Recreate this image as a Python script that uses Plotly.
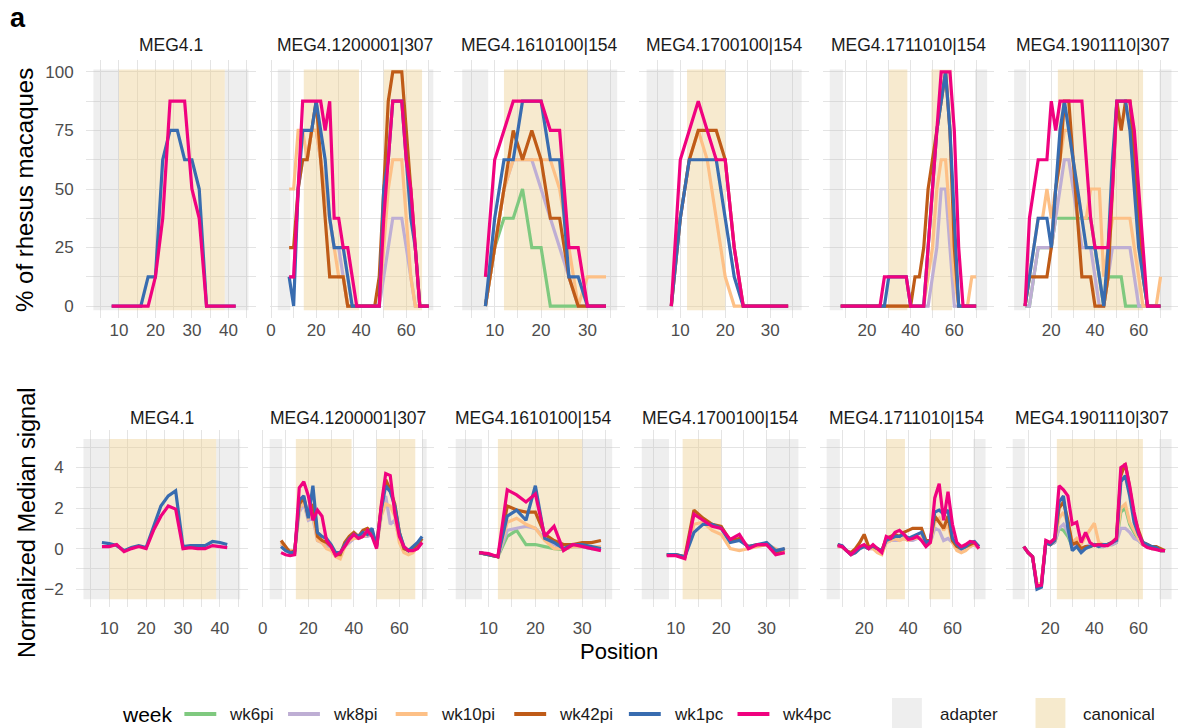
import plotly.graph_objects as go

W, H = 1184, 728
FONT = "Liberation Sans, Arial, Helvetica, sans-serif"

# ---------------- data ----------------
weeks = ["wk6pi", "wk8pi", "wk10pi", "wk42pi", "wk1pc", "wk4pc"]
week_colors = ["#7FC97F", "#BEAED4", "#FDC086", "#BF5B17", "#386CB0", "#F0027F"]

panels = ["MEG4.1", "MEG4.1200001|307", "MEG4.1610100|154",
          "MEG4.1700100|154", "MEG4.1711010|154", "MEG4.1901110|307"]

pos_8_42 = [8, 10, 12, 14, 16, 18, 20, 22, 24, 26, 28, 30, 32, 34, 36, 38, 40, 42]
pos_8_34 = [8, 10, 12, 14, 16, 18, 20, 22, 24, 26, 28, 30, 32, 34]
pos_8_70 = [8, 10, 12, 14, 16, 18, 20, 22, 24, 26, 28, 30, 32, 34, 36, 38, 40, 42,
            44, 46, 48, 50, 52, 54, 56, 58, 60, 62, 64, 66, 68, 70]
pos_8_72 = [8, 10, 12, 14, 16, 18, 20, 22, 24, 26, 28, 30, 32, 34, 36, 38, 40, 42,
            44, 46, 48, 50, 52, 54, 56, 58, 60, 62, 64, 66, 68, 70, 72]

# % of rhesus macaques (top row)
pct_meg4_1 = {
    "wk1pc": [0, 0, 0, 0, 0, 12.5, 12.5, 62.5, 75, 75, 62.5, 62.5, 50, 0, 0, 0, 0, 0],
    "wk4pc": [0, 0, 0, 0, 0, 0, 12.5, 37.5, 87.5, 87.5, 87.5, 50, 37.5, 0, 0, 0, 0, 0],
}
pct_1200001 = {
    "wk8pi": [12.5, 12.5, 50, 62.5, 62.5, 75, 75, 62.5, 50, 37.5, 25, 25, 12.5, 0, 0, 0,
              0, 0, 0, 0, 0, 12.5, 25, 37.5, 37.5, 37.5, 25, 12.5, 0, 0, 0, 0],
    "wk10pi": [50, 50, 75, 75, 62.5, 75, 75, 62.5, 50, 37.5, 25, 12.5, 12.5, 0, 0, 0,
               0, 0, 0, 0, 0, 25, 50, 62.5, 62.5, 62.5, 37.5, 12.5, 0, 0, 0, 0],
    "wk42pi": [25, 25, 50, 62.5, 62.5, 75, 87.5, 62.5, 37.5, 12.5, 12.5, 12.5, 12.5, 0, 0, 0,
               0, 0, 0, 0, 12.5, 50, 87.5, 100, 100, 100, 75, 50, 25, 0, 0, 0],
    "wk1pc": [12.5, 0, 50, 75, 75, 75, 87.5, 75, 62.5, 37.5, 25, 25, 25, 12.5, 0, 0,
              0, 0, 0, 0, 0, 50, 62.5, 87.5, 87.5, 87.5, 62.5, 37.5, 25, 0, 0, 0],
    "wk4pc": [12.5, 12.5, 50, 87.5, 87.5, 87.5, 87.5, 87.5, 75, 87.5, 37.5, 37.5, 25, 25, 12.5, 0,
              0, 0, 0, 0, 0, 37.5, 62.5, 87.5, 87.5, 87.5, 62.5, 50, 25, 0, 0, 0],
}
pct_1610100 = {
    "wk6pi": [0, 25, 37.5, 37.5, 50, 25, 25, 0, 0, 0, 0, 0, 0, 0],
    "wk8pi": [0, 25, 50, 62.5, 62.5, 62.5, 50, 37.5, 25, 12.5, 0, 0, 0, 0],
    "wk10pi": [0, 25, 50, 62.5, 62.5, 62.5, 62.5, 62.5, 50, 25, 0, 12.5, 12.5, 12.5],
    "wk42pi": [0, 25, 50, 75, 62.5, 75, 62.5, 37.5, 37.5, 12.5, 0, 0, 0, 0],
    "wk1pc": [0, 37.5, 62.5, 62.5, 87.5, 87.5, 87.5, 62.5, 62.5, 12.5, 12.5, 0, 0, 0],
    "wk4pc": [12.5, 62.5, 75, 87.5, 87.5, 87.5, 87.5, 75, 75, 25, 25, 0, 0, 0],
}
pct_1700100 = {
    "wk10pi": [0, 37.5, 62.5, 75, 62.5, 37.5, 12.5, 0, 0, 0, 0, 0, 0, 0],
    "wk42pi": [0, 37.5, 62.5, 75, 75, 75, 62.5, 25, 0, 0, 0, 0, 0, 0],
    "wk1pc": [0, 37.5, 62.5, 62.5, 62.5, 62.5, 37.5, 12.5, 0, 0, 0, 0, 0, 0],
    "wk4pc": [0, 62.5, 75, 87.5, 75, 62.5, 62.5, 25, 0, 0, 0, 0, 0, 0],
}
pct_1711010 = {
    "wk8pi": [0, 0, 0, 0, 0, 0, 0, 0, 0, 0, 0, 0, 0, 0, 0, 0,
              0, 0, 0, 0, 0, 12.5, 25, 50, 50, 25, 0, 0, 0, 0, 0, 0],
    "wk10pi": [0, 0, 0, 0, 0, 0, 0, 0, 0, 0, 0, 0, 0, 0, 0, 0,
               0, 0, 0, 0, 12.5, 25, 50, 62.5, 62.5, 37.5, 12.5, 0, 0, 0, 12.5, 12.5],
    "wk42pi": [0, 0, 0, 0, 0, 0, 0, 0, 0, 0, 0, 0, 0, 0, 0, 0,
               0, 12.5, 12.5, 25, 50, 62.5, 75, 87.5, 100, 75, 25, 0, 0, 0, 0, 0],
    "wk1pc": [0, 0, 0, 0, 0, 0, 0, 0, 0, 0, 0, 12.5, 12.5, 12.5, 12.5, 12.5,
              0, 0, 0, 0, 25, 50, 75, 87.5, 100, 75, 37.5, 0, 0, 0, 0, 0],
    "wk4pc": [0, 0, 0, 0, 0, 0, 0, 0, 0, 0, 12.5, 12.5, 12.5, 12.5, 12.5, 12.5,
              0, 0, 0, 0, 25, 50, 75, 100, 100, 100, 75, 25, 0, 0, 0, 0],
}
pct_1901110 = {
    "wk6pi": [0, 0, 12.5, 25, 25, 25, 25, 37.5, 37.5, 37.5, 37.5, 37.5, 37.5, 37.5, 37.5, 37.5,
              25, 12.5, 0, 12.5, 12.5, 12.5, 12.5, 0, 0, 0, 0, 0, 0, 0, 0, 0],
    "wk8pi": [0, 0, 12.5, 25, 25, 25, 25, 37.5, 50, 62.5, 62.5, 50, 37.5, 25, 25, 25,
              12.5, 0, 0, 12.5, 25, 25, 25, 25, 25, 12.5, 0, 0, 0, 0, 0, 0],
    "wk10pi": [0, 12.5, 25, 37.5, 37.5, 50, 37.5, 50, 62.5, 75, 75, 62.5, 50, 37.5, 37.5, 50,
               50, 50, 12.5, 25, 37.5, 37.5, 37.5, 37.5, 37.5, 25, 12.5, 0, 0, 0, 0, 12.5],
    "wk42pi": [0, 12.5, 12.5, 12.5, 12.5, 12.5, 25, 50, 62.5, 87.5, 87.5, 62.5, 37.5, 12.5, 12.5, 12.5,
               0, 0, 0, 12.5, 50, 87.5, 75, 87.5, 87.5, 62.5, 37.5, 12.5, 0, 0, 0, 0],
    "wk1pc": [0, 12.5, 25, 37.5, 37.5, 37.5, 25, 50, 75, 87.5, 75, 62.5, 50, 37.5, 25, 25,
              25, 12.5, 0, 25, 62.5, 87.5, 87.5, 87.5, 75, 50, 25, 12.5, 0, 0, 0, 0],
    "wk4pc": [0, 37.5, 50, 62.5, 62.5, 62.5, 87.5, 75, 87.5, 87.5, 87.5, 87.5, 87.5, 87.5, 62.5, 37.5,
              25, 25, 25, 25, 50, 87.5, 87.5, 87.5, 87.5, 75, 50, 25, 0, 0, 0, 0],
}

# Normalized median signal (bottom row)
sig_meg4_1 = {
    "wk1pc": [0.3, 0.25, 0.15, -0.1, 0.05, 0.15, 0.05, 1.1, 2.1, 2.6, 2.85, 0.1, 0.15, 0.15, 0.15, 0.35, 0.3, 0.2],
    "wk4pc": [0.1, 0.1, 0.2, -0.15, 0.0, 0.1, 0.0, 0.9, 1.6, 2.1, 1.95, 0.0, 0.05, 0.0, 0.0, 0.15, 0.1, 0.05],
}
sig_1200001 = {
    "wk8pi": [0.2, 0.0, -0.1, -0.1, 1.8, 2.2, 1.4, 1.5, 0.4, 0.3, 0.1, 0.0, -0.2, -0.3, 0.1, 0.3,
              0.5, 0.5, 0.6, 0.6, 0.7, 0.1, 1.6, 2.6, 1.2, 1.4, 0.5, 0.0, -0.1, -0.1, 0.1, 0.3],
    "wk10pi": [0.3, 0.0, -0.1, -0.1, 2.0, 2.3, 1.5, 1.7, 0.4, 0.3, 0.0, -0.1, -0.4, -0.5, 0.1, 0.4,
               0.5, 0.5, 0.6, 0.7, 0.7, 0.1, 1.6, 2.2, 2.1, 1.6, 0.3, -0.2, -0.3, -0.2, 0.1, 0.3],
    "wk42pi": [0.4, 0.1, -0.2, -0.1, 2.2, 2.5, 1.6, 2.2, 0.6, 0.4, 0.3, 0.1, -0.3, -0.3, 0.3, 0.6,
               0.8, 0.6, 0.9, 1.0, 0.8, 0.2, 2.0, 3.4, 2.9, 2.2, 0.8, 0.0, -0.1, 0.0, 0.2, 0.5],
    "wk1pc": [0.1, -0.1, -0.2, -0.2, 2.4, 2.6, 1.5, 3.1, 0.8, 0.6, 0.5, 0.2, -0.2, -0.2, 0.2, 0.5,
              0.7, 0.6, 0.8, 0.7, 1.0, 0.1, 1.9, 3.1, 2.8, 2.1, 0.8, 0.1, -0.1, 0.1, 0.3, 0.6],
    "wk4pc": [-0.2, -0.3, -0.35, -0.3, 3.0, 3.3, 2.6, 1.4, 1.9, 1.6, 0.4, 0.1, -0.35, -0.2, 0.1, 0.45,
              0.7, 0.5, 0.6, 0.9, 0.6, 0.0, 2.1, 3.7, 3.6, 1.75, 0.6, 0.1, -0.1, -0.1, 0.0, 0.3],
}
sig_1610100 = {
    "wk6pi": [-0.2, -0.3, -0.4, 0.6, 0.9, 0.2, 0.2, 0.1, 0.0, -0.05, 0.1, 0.1, 0.0, 0.0],
    "wk8pi": [-0.2, -0.3, -0.4, 0.9, 1.0, 1.1, 1.0, 0.5, 0.2, 0.0, 0.1, 0.1, 0.0, 0.0],
    "wk10pi": [-0.2, -0.3, -0.4, 1.3, 1.5, 1.2, 1.0, 0.4, 0.0, 0.0, 0.1, 0.1, 0.1, 0.1],
    "wk42pi": [-0.2, -0.3, -0.4, 2.1, 1.9, 1.8, 1.8, 0.7, 0.4, 0.2, 0.2, 0.3, 0.3, 0.4],
    "wk1pc": [-0.2, -0.3, -0.4, 1.6, 1.9, 1.4, 3.1, 0.5, 0.3, 0.0, 0.2, 0.2, 0.1, 0.0],
    "wk4pc": [-0.2, -0.25, -0.4, 2.9, 2.65, 2.3, 2.7, 0.6, 1.1, -0.1, 0.2, 0.1, 0.0, -0.1],
}
sig_1700100 = {
    "wk10pi": [-0.3, -0.3, -0.4, 1.2, 1.3, 0.9, 0.7, 0.0, -0.1, 0.0, 0.1, 0.2, 0.0, -0.2],
    "wk42pi": [-0.3, -0.3, -0.4, 1.9, 1.5, 1.2, 1.1, 0.4, 0.5, 0.1, 0.2, 0.2, -0.2, 0.0],
    "wk1pc": [-0.3, -0.3, -0.4, 0.8, 1.2, 1.2, 1.0, 0.3, 0.4, 0.1, 0.2, 0.3, -0.1, 0.0],
    "wk4pc": [-0.35, -0.35, -0.5, 1.7, 1.4, 1.1, 1.0, 0.45, 0.7, 0.0, 0.2, 0.2, -0.3, -0.2],
}
sig_1711010 = {
    "wk8pi": [0.1, 0.1, -0.1, -0.3, -0.2, 0.0, 0.1, 0.0, 0.0, -0.1, -0.2, 0.3, 0.4, 0.4, 0.4, 0.5,
              0.4, 0.4, 0.5, 0.5, 0.2, 0.3, 1.0, 0.9, 0.4, 0.5, 0.3, 0.0, -0.1, 0.0, 0.1, 0.2, 0.0],
    "wk10pi": [0.1, 0.1, -0.1, -0.3, -0.2, 0.0, 0.1, 0.0, 0.0, -0.2, -0.3, 0.3, 0.4, 0.5, 0.4, 0.5,
               0.4, 0.5, 0.5, 0.6, 0.2, 0.3, 1.3, 1.5, 0.9, 1.2, 0.3, -0.1, -0.2, -0.1, 0.1, 0.2, 0.0],
    "wk42pi": [0.2, 0.1, -0.1, -0.2, 0.0, 0.3, 0.7, 0.1, 0.1, 0.0, -0.1, 0.5, 0.6, 0.7, 0.6, 0.8,
               0.9, 1.0, 1.0, 1.0, 0.4, 0.4, 1.6, 1.3, 1.0, 1.6, 0.4, 0.1, 0.0, 0.1, 0.2, 0.3, 0.1],
    "wk1pc": [0.2, 0.15, -0.1, -0.3, -0.2, 0.0, 0.1, 0.0, 0.15, 0.0, -0.1, 0.4, 0.5, 0.6, 0.6, 0.7,
              0.5, 0.6, 0.7, 0.8, 0.3, 0.4, 1.8, 1.9, 1.7, 1.9, 0.5, 0.2, 0.0, 0.1, 0.3, 0.35, 0.1],
    "wk4pc": [0.15, 0.1, -0.1, -0.3, -0.1, 0.1, 0.2, 0.0, 0.2, 0.0, -0.2, 0.6, 0.5, 0.8, 0.9, 0.7,
              0.45, 0.5, 0.6, 0.4, 0.1, 0.3, 2.5, 3.2, 1.4, 2.8, 1.2, 0.3, 0.1, 0.2, 0.35, 0.3, 0.0],
}
sig_1901110 = {
    "wk6pi": [0.1, -0.2, -0.4, -1.8, -1.7, 0.3, 0.2, 0.3, 1.0, 0.9, 0.6, 0.1, 0.2, 0.0, 0.1, 0.1,
              0.2, 0.1, 0.1, 0.2, 0.2, 0.3, 1.8, 2.0, 1.2, 0.8, 0.4, 0.2, 0.1, 0.0, 0.0, -0.1, -0.1],
    "wk8pi": [0.1, -0.2, -0.4, -1.8, -1.7, 0.3, 0.2, 0.3, 1.0, 1.2, 0.8, 0.1, 0.2, 0.0, 0.1, 0.2,
              0.2, 0.1, 0.1, 0.2, 0.2, 0.3, 1.0, 1.0, 0.8, 0.5, 0.4, 0.2, 0.1, 0.0, 0.0, -0.1, -0.1],
    "wk10pi": [0.1, -0.2, -0.4, -1.8, -1.7, 0.3, 0.2, 0.4, 1.5, 1.8, 1.2, 0.3, 0.5, 0.2, 0.6, 0.9,
               1.25, 0.3, 0.2, 0.2, 0.3, 0.4, 2.0, 2.2, 1.3, 0.9, 0.5, 0.2, 0.1, 0.0, 0.0, -0.1, -0.1],
    "wk42pi": [0.1, -0.2, -0.4, -1.9, -1.8, 0.3, 0.2, 0.4, 2.0, 2.3, 1.4, 0.2, 0.3, 0.0, 0.1, 0.1,
               0.2, 0.2, 0.2, 0.2, 0.3, 0.5, 3.6, 4.2, 3.0, 1.6, 0.9, 0.3, 0.2, 0.1, 0.1, 0.0, -0.1],
    "wk1pc": [0.1, -0.2, -0.4, -2.0, -1.9, 0.3, 0.2, 0.4, 2.3, 2.6, 1.0, -0.1, 0.1, -0.2, 0.0, 0.1,
              0.2, 0.1, 0.2, 0.2, 0.3, 0.4, 3.3, 3.6, 2.6, 1.3, 0.7, 0.3, 0.2, 0.1, 0.05, -0.1, -0.1],
    "wk4pc": [0.1, -0.2, -0.4, -1.85, -1.8, 0.4, 0.3, 0.5, 3.1, 2.9, 2.6, 1.2, 1.3, 0.3, 0.8, 0.3,
              0.15, 0.2, 0.15, 0.15, 0.3, 0.5, 4.0, 4.15, 3.1, 1.8, 0.8, 0.2, 0.05, 0.0, -0.05, -0.1, -0.1],
}

top_pos = [pos_8_42, pos_8_70, pos_8_34, pos_8_34, pos_8_70, pos_8_70]
bot_pos = [pos_8_42, pos_8_70, pos_8_34, pos_8_34, pos_8_72, pos_8_72]
top_data = [pct_meg4_1, pct_1200001, pct_1610100, pct_1700100, pct_1711010, pct_1901110]
bot_data = [sig_meg4_1, sig_1200001, sig_1610100, sig_1700100, sig_1711010, sig_1901110]

# adapter / canonical regions (position units)
adapter_regions = [[[3, 10], [39, 45.5]], [[3, 8.5], [70, 72]], [[3, 8.6], [30, 36.4]],
                   [[2.5, 8.5], [30, 37]], [[3, 9], [69.5, 75]], [[3, 8.5], [69.5, 75]]]
canonical_regions = [[[10, 39]], [[14.5, 39], [50, 67]], [[12, 30]],
                     [[11.5, 20]], [[30, 38.5], [49.5, 59]], [[23, 62]]]

x_ticks = [[10, 20, 30, 40], [0, 20, 40, 60], [10, 20, 30], [10, 20, 30], [20, 40, 60], [20, 40, 60]]
x_minor = [[5, 15, 25, 35, 45], [10, 30, 50, 70], [5, 15, 25, 35], [5, 15, 25, 35],
           [10, 30, 50, 70], [10, 30, 50, 70]]

# ---------------- layout geometry ----------------
x_ranges = [[0.9, 47.6], [-0.45, 75.2], [1.33, 38.07], [0.78, 38.7], [0, 78], [0, 78]]

rows = [
    dict(data=top_data, pos=top_pos, yrange=[-5.1, 105.1], yticks=[0, 25, 50, 75, 100],
         yminor=[12.5, 37.5, 62.5, 87.5], ypx=(60, 318), left=82, pitch=185, width=171,
         shade=(-1.8, 101), title_y=45, xstand=0),
    dict(data=bot_data, pos=bot_pos, yrange=[-2.88, 5.85], yticks=[-2, 0, 2, 4],
         yminor=[-1, 1, 3, 5], ypx=(430, 607), left=72, pitch=186.7, width=172.7,
         shade=(-2.5, 5.4), title_y=418, xstand=9),
]

GRID = "#E4E4E4"
ADAPTER = "rgba(190,190,190,0.26)"
CANON = "rgba(236,205,140,0.42)"

fig = go.Figure()
layout = dict(width=W, height=H, margin=dict(l=0, r=0, t=0, b=0),
              paper_bgcolor="white", plot_bgcolor="white", showlegend=False,
              font=dict(family=FONT, color="#4D4D4D"))
shapes = []
annotations = []

for r, row in enumerate(rows):
    for c in range(6):
        n = r * 6 + c + 1
        xa = "xaxis" if n == 1 else f"xaxis{n}"
        ya = "yaxis" if n == 1 else f"yaxis{n}"
        xr = "x" if n == 1 else f"x{n}"
        yr = "y" if n == 1 else f"y{n}"
        L = row["left"] + c * row["pitch"]
        R = L + row["width"]
        y0, y1 = row["ypx"]
        layout[xa] = dict(domain=[L / W, R / W], anchor=yr, range=x_ranges[c],
                          tickmode="array", tickvals=x_ticks[c], showgrid=True,
                          gridcolor=GRID, gridwidth=1.2, zeroline=False, showline=False,
                          ticks="", ticklabelstandoff=row["xstand"],
                          tickfont=dict(size=17, color="#4D4D4D", family=FONT),
                          minor=dict(tickmode="array", tickvals=x_minor[c], showgrid=True,
                                     gridcolor=GRID, gridwidth=0.6, ticks=""),
                          fixedrange=True)
        layout[ya] = dict(domain=[1 - y1 / H, 1 - y0 / H], anchor=xr, range=row["yrange"],
                          tickmode="array", tickvals=row["yticks"], showgrid=True,
                          gridcolor=GRID, gridwidth=1.2, zeroline=False, showline=False,
                          ticks="", showticklabels=(c == 0), ticklabelstandoff=11,
                          tickfont=dict(size=17, color="#4D4D4D", family=FONT),
                          minor=dict(tickmode="array", tickvals=row["yminor"], showgrid=True,
                                     gridcolor=GRID, gridwidth=0.6, ticks=""),
                          fixedrange=True)
        for a, b in adapter_regions[c]:
            shapes.append(dict(type="rect", xref=xr, yref=yr, x0=a, x1=b,
                               y0=row["shade"][0], y1=row["shade"][1],
                               fillcolor=ADAPTER, line=dict(width=0), layer="between"))
        for a, b in canonical_regions[c]:
            shapes.append(dict(type="rect", xref=xr, yref=yr, x0=a, x1=b,
                               y0=row["shade"][0], y1=row["shade"][1],
                               fillcolor=CANON, line=dict(width=0), layer="between"))
        d = row["data"][c]
        for wk, col in zip(weeks, week_colors):
            if wk in d:
                fig.add_trace(go.Scatter(x=row["pos"][c], y=d[wk], mode="lines",
                                         line=dict(color=col, width=3.2),
                                         xaxis=xr, yaxis=yr, hoverinfo="skip",
                                         showlegend=False))
        annotations.append(dict(text=panels[c], xref="paper", yref="paper",
                                x=(L + R) / 2 / W, y=1 - row["title_y"] / H,
                                showarrow=False, xanchor="center", yanchor="middle",
                                font=dict(size=17.5, color="#1A1A1A", family=FONT)))

# axis titles and panel letter
annotations += [
    dict(text="<b>a</b>", xref="paper", yref="paper", x=4 / W, y=1 - 18 / H, showarrow=False,
         xanchor="left", yanchor="middle", font=dict(size=27, color="black", family=FONT)),
    dict(text="% of rhesus macaques", xref="paper", yref="paper", x=21 / W, y=1 - 190 / H,
         showarrow=False, textangle=-90, xanchor="center", yanchor="middle",
         font=dict(size=24, color="black", family=FONT)),
    dict(text="Normalized Median signal", xref="paper", yref="paper", x=23 / W, y=1 - 523 / H,
         showarrow=False, textangle=-90, xanchor="center", yanchor="middle",
         font=dict(size=23.5, color="black", family=FONT)),
    dict(text="Position", xref="paper", yref="paper", x=617 / W, y=1 - 651 / H,
         showarrow=False, xanchor="center", yanchor="middle",
         font=dict(size=22, color="black", family=FONT)),
]

# legend (drawn manually)
LEG_Y = 714
annotations.append(dict(text="week", xref="paper", yref="paper", x=116 / W, y=1 - LEG_Y / H,
                        showarrow=False, xanchor="left", yanchor="middle",
                        font=dict(size=21, color="black", family=FONT)))
key_x = [181, 285, 393, 512, 627, 736]
for wk, col, kx in zip(weeks, week_colors, key_x):
    shapes.append(dict(type="line", xref="paper", yref="paper", x0=kx / W, x1=(kx + 32) / W,
                       y0=1 - LEG_Y / H, y1=1 - LEG_Y / H, line=dict(color=col, width=4)))
    annotations.append(dict(text=wk, xref="paper", yref="paper", x=(kx + 43) / W, y=1 - LEG_Y / H,
                            showarrow=False, xanchor="left", yanchor="middle",
                            font=dict(size=17, color="#1A1A1A", family=FONT)))
for kx, fc, lab in [(891, "#EEEEEE", "adapter"), (1035, "#F6EACD", "canonical")]:
    shapes.append(dict(type="rect", xref="paper", yref="paper", x0=kx / W, x1=(kx + 30) / W,
                       y0=1 - 728 / H, y1=1 - 698 / H, fillcolor=fc, line=dict(width=0)))
    annotations.append(dict(text=lab, xref="paper", yref="paper", x=(kx + 46) / W, y=1 - LEG_Y / H,
                            showarrow=False, xanchor="left", yanchor="middle",
                            font=dict(size=17, color="#1A1A1A", family=FONT)))

layout["shapes"] = shapes
layout["annotations"] = annotations
fig.update_layout(**layout)
fig.write_html("out.html")
